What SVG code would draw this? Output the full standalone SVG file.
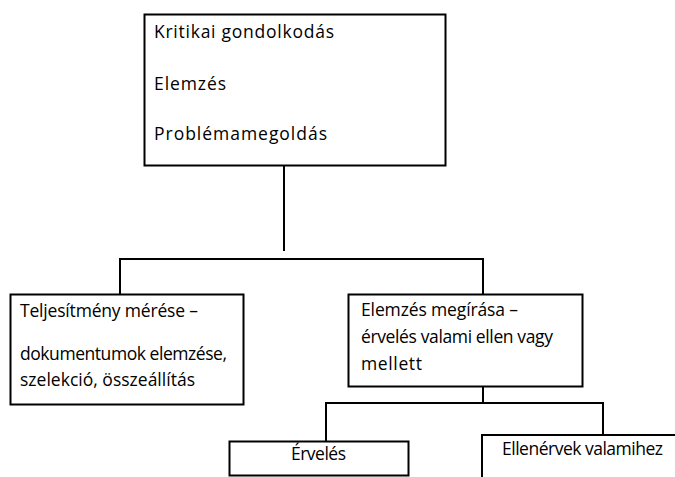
<svg xmlns="http://www.w3.org/2000/svg" width="675" height="477" viewBox="0 0 675 477">
<style>
.box{fill:#fff;stroke:#000;stroke-width:2}
.ln{fill:none;stroke:#000;stroke-width:2}
text{font-family:"Open Sans","Liberation Sans",sans-serif;font-size:17.5px;fill:#000}
</style>
<rect width="675" height="477" fill="#fff"/>
<g id="connectors">
<path class="ln" d="M284 166V251"/>
<path class="ln" d="M120 294V259H483V294"/>
<path class="ln" d="M483 387V403"/>
<path class="ln" d="M326 441V403H603V435"/>
</g>
<g id="top">
<rect class="box" x="144.5" y="14.5" width="301" height="151"/>
<text x="154" y="38" textLength="180" lengthAdjust="spacing">Kritikai gondolkodás</text>
<text x="154" y="90" textLength="72" lengthAdjust="spacing">Elemzés</text>
<text x="154" y="140" textLength="173" lengthAdjust="spacing">Problémamegoldás</text>
</g>
<g id="left">
<rect class="box" x="10.5" y="294.5" width="233" height="110"/>
<text x="20" y="317" textLength="178" lengthAdjust="spacing">Teljesítmény mérése –</text>
<text x="20" y="360" textLength="207" lengthAdjust="spacing">dokumentumok elemzése,</text>
<text x="20" y="386" textLength="175" lengthAdjust="spacing">szelekció, összeállítás</text>
</g>
<g id="right">
<rect class="box" x="348.5" y="294.5" width="234" height="92"/>
<text x="361" y="316" textLength="157" lengthAdjust="spacing">Elemzés megírása –</text>
<text x="361" y="343" textLength="192" lengthAdjust="spacing">érvelés valami ellen vagy</text>
<text x="361" y="370" textLength="61" lengthAdjust="spacing">mellett</text>
</g>
<g id="ervel">
<rect class="box" x="229.5" y="441.5" width="179" height="34"/>
<text x="291" y="460" textLength="55" lengthAdjust="spacing">Érvelés</text>
</g>
<g id="ellen">
<path class="ln" d="M482 478V435H676"/>
<text x="502" y="455" textLength="161" lengthAdjust="spacing">Ellenérvek valamihez</text>
</g>
</svg>
